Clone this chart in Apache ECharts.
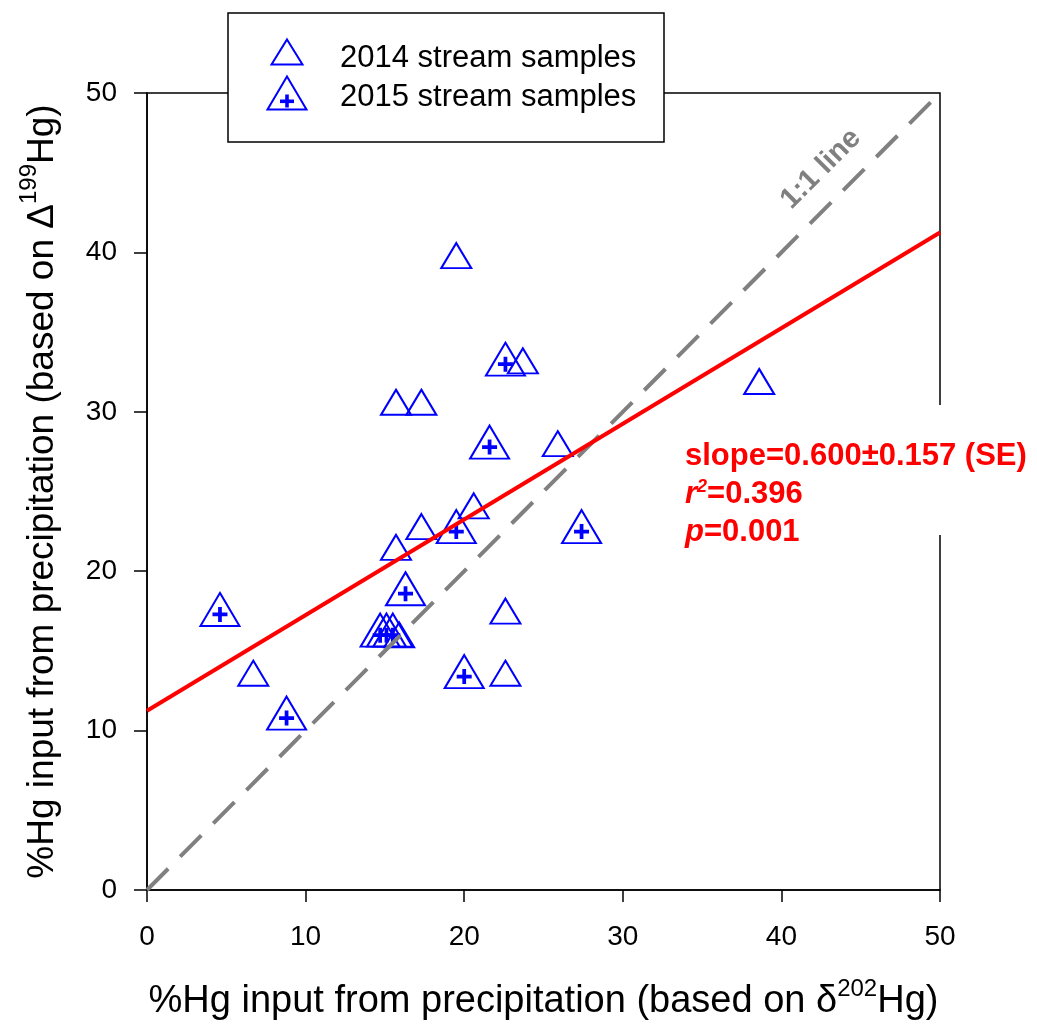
<!DOCTYPE html>
<html>
<head>
<meta charset="utf-8">
<script src="https://cdn.jsdelivr.net/npm/echarts@6/dist/echarts.min.js"></script>
<style>
html,body{margin:0;padding:0;background:#fff;}
#chart{width:1037px;height:1030px;}
</style>
</head>
<body>
<div id="chart"></div>
<script>
// ---- data ----
var xTicks = [0, 10, 20, 30, 40, 50];
var yTicks = [0, 10, 20, 30, 40, 50];

var s2014X = [19.5, 23.7, 15.7, 17.3, 25.9, 6.7, 15.7, 17.3, 20.6, 22.6, 22.6, 38.6, 15.9];
var s2014Y = [39.8, 33.2, 30.6, 30.6, 28.0, 13.6, 21.5, 22.8, 24.1, 17.5, 13.6, 31.9, 16.0];

var s2015X = [22.6, 21.6, 4.6, 8.8, 16.3, 19.5, 27.4, 20.0, 14.7, 15.1, 15.5];
var s2015Y = [33.3, 28.1, 17.6, 11.1, 18.9, 22.8, 22.8, 13.7, 16.3, 16.3, 16.3];

var oneToOneX = [0, 50];
var oneToOneY = [0, 50];

var regX = [0, 50];
var regY = [11.25, 41.25];

var legendNames = ['2014 stream samples', '2015 stream samples'];
var statLines = ['slope=0.600\u00b10.157 (SE)', '=0.396', '=0.001'];

function pairs(xs, ys) { return xs.map(function (x, i) { return [x, ys[i]]; }); }

var FONT = '"Liberation Sans", Arial, Helvetica, sans-serif';
var BLUE = '#0000ff';
var PLUS = 'path://M6,0H10V6H16V10H10V16H6V10H0V6H6Z';

var chart = echarts.init(document.getElementById('chart'), null, {renderer: 'canvas'});

function titleRich(size) {
  return {
    n: {fontSize: size, fontFamily: FONT, color: '#000', lineHeight: 44, verticalAlign: 'bottom'},
    s: {fontSize: 24, fontFamily: FONT, color: '#000', lineHeight: 44, verticalAlign: 'top'}
  };
}

var option = {
  backgroundColor: '#ffffff',
  animation: false,
  grid: {
    left: 147, right: 97, top: 93, bottom: 140,
    show: true, borderColor: '#000', borderWidth: 1.5, backgroundColor: 'transparent'
  },
  xAxis: {
    type: 'value', min: xTicks[0], max: xTicks[xTicks.length - 1], interval: 10,
    splitLine: {show: false},
    axisLine: {show: true, lineStyle: {color: '#000', width: 1.5}},
    axisTick: {show: true, inside: false, length: 12, lineStyle: {color: '#000', width: 1.5}},
    axisLabel: {color: '#000', fontSize: 28, fontFamily: FONT, margin: 33},
    name: '{n|%Hg input from precipitation (based on \u03b4}{s|202}{n|Hg)}',
    nameLocation: 'middle', nameGap: 87,
    nameTextStyle: {color: '#000', fontFamily: FONT, rich: titleRich(38)}
  },
  yAxis: {
    type: 'value', min: yTicks[0], max: yTicks[yTicks.length - 1], interval: 10,
    splitLine: {show: false},
    axisLine: {show: true, lineStyle: {color: '#000', width: 1.5}},
    axisTick: {show: true, inside: false, length: 13, lineStyle: {color: '#000', width: 1.5}},
    axisLabel: {color: '#000', fontSize: 28, fontFamily: FONT, margin: 30},
    name: '{n|%Hg input from precipitation (based on \u0394}{s|199}{n|Hg)}',
    nameLocation: 'middle', nameGap: 86, nameRotate: 90,
    nameTextStyle: {color: '#000', fontFamily: FONT, rich: titleRich(37)}
  },
  series: [
    {
      name: legendNames[0], type: 'scatter', z: 2, silent: true,
      data: pairs(s2014X, s2014Y),
      symbol: 'triangle', symbolSize: [30, 25],
      itemStyle: {color: 'transparent', borderColor: BLUE, borderWidth: 2, opacity: 1}
    },
    {
      name: legendNames[1], type: 'scatter', z: 2, silent: true,
      data: pairs(s2015X, s2015Y),
      symbol: 'triangle', symbolSize: [39, 33],
      itemStyle: {color: 'transparent', borderColor: BLUE, borderWidth: 2, opacity: 1}
    },
    {
      name: '2015 plus', type: 'scatter', z: 2, silent: true,
      data: pairs(s2015X, s2015Y),
      symbol: PLUS, symbolSize: 15, symbolOffset: [0, 5],
      itemStyle: {color: BLUE, opacity: 1}
    },
    {
      name: '1:1 line', type: 'line', z: 3, silent: true,
      data: pairs(oneToOneX, oneToOneY),
      symbol: 'none',
      lineStyle: {color: '#808080', width: 4, type: [30, 17]}
    },
    {
      name: 'regression', type: 'line', z: 4, silent: true,
      data: pairs(regX, regY),
      symbol: 'none',
      lineStyle: {color: '#ff0000', width: 4}
    }
  ],
  graphic: [
    // legend box
    {type: 'rect', z: 20, shape: {x: 228, y: 13, width: 436, height: 129},
     style: {fill: '#fff', stroke: '#000', lineWidth: 1.5}},
    {type: 'polygon', z: 21, shape: {points: [[287, 39.5], [302.5, 64.5], [271.5, 64.5]]},
     style: {fill: 'none', stroke: BLUE, lineWidth: 2}},
    {type: 'polygon', z: 21, shape: {points: [[287, 76.5], [306.5, 109.5], [267.5, 109.5]]},
     style: {fill: 'none', stroke: BLUE, lineWidth: 2}},
    {type: 'rect', z: 21, shape: {x: 280, y: 99.5, width: 14, height: 3.6}, style: {fill: BLUE}},
    {type: 'rect', z: 21, shape: {x: 285.2, y: 94.5, width: 3.6, height: 13}, style: {fill: BLUE}},
    {type: 'text', z: 21, x: 340, y: 58,
     style: {text: legendNames[0], fill: '#000', font: '31px ' + FONT, verticalAlign: 'middle', align: 'left'}},
    {type: 'text', z: 21, x: 340, y: 97,
     style: {text: legendNames[1], fill: '#000', font: '31px ' + FONT, verticalAlign: 'middle', align: 'left'}},
    // gap in right frame behind statistics text
    {type: 'rect', z: 20, shape: {x: 930, y: 405, width: 20, height: 130}, style: {fill: '#fff'}},
    // statistics text
    {type: 'text', z: 21, x: 685, y: 437,
     style: {
       text: '{n|' + statLines[0] + '}\n{i|r}{s|2}{n|' + statLines[1] + '}\n{i|p}{n|' + statLines[2] + '}',
       fill: '#ff0000', align: 'left', verticalAlign: 'top',
       rich: {
         n: {fontSize: 31, fontWeight: 'bold', fontFamily: FONT, fill: '#ff0000', lineHeight: 38},
         i: {fontSize: 31, fontWeight: 'bold', fontStyle: 'italic', fontFamily: FONT, fill: '#ff0000', lineHeight: 38},
         s: {fontSize: 18, fontWeight: 'bold', fontStyle: 'italic', fontFamily: FONT, fill: '#ff0000', lineHeight: 38, verticalAlign: 'top', padding: [3, 0, 0, 0]}
       }
     }},
    // 1:1 line label
    {type: 'text', z: 21, x: 821, y: 169, rotation: Math.PI / 4,
     style: {text: '1:1 line', fill: '#808080', font: 'bold 29px ' + FONT, align: 'center', verticalAlign: 'middle'}}
  ]
};

chart.setOption(option);
</script>
</body>
</html>
